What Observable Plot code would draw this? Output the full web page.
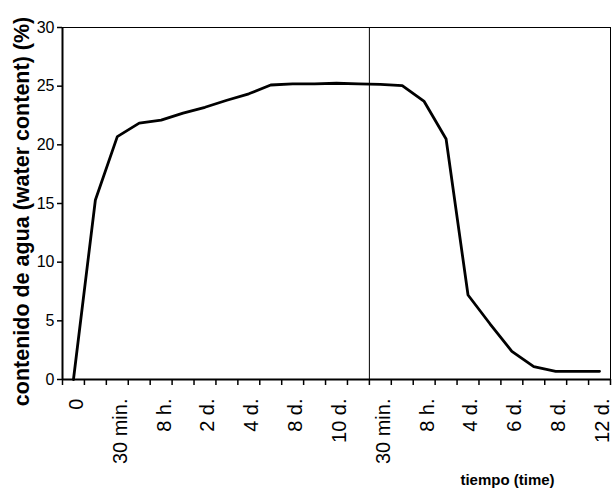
<!DOCTYPE html>
<html>
<head>
<meta charset="utf-8">
<script src="https://cdn.jsdelivr.net/npm/d3@7"></script>
<script src="https://cdn.jsdelivr.net/npm/@observablehq/plot@0.6"></script>
<style>
  html, body { margin: 0; padding: 0; background: #fff; }
  #chart { width: 612px; height: 489px; }
</style>
</head>
<body>
<div id="chart"></div>
<script>
// Category labels (one per category; empty = unlabeled category)
const categories = ["0", "", "30 min.", "", "8 h.", "", "2 d.", "", "4 d.", "", "8 d.", "", "10 d.", "",
                    "30 min.", "", "8 h.", "", "4 d.", "", "6 d.", "", "8 d.", "", "12 d."];
// Water content (%) per category
const values = [0, 15.3, 20.7, 21.85, 22.1, 22.7, 23.2, 23.8, 24.35, 25.1, 25.2, 25.2, 25.25, 25.2,
                25.15, 25.05, 23.7, 20.5, 7.2, 4.75, 2.4, 1.1, 0.7, 0.7, 0.7];
const yTicks = [0, 5, 10, 15, 20, 25, 30];
const yTitle = "contenido de agua (water content) (%)";
const xTitle = "tiempo (time)";
const splitAt = 14; // boundary between the two phases

const data = values.map((v, i) => ({i: i + 0.5, v}));
const boundaries = d3.range(categories.length + 1);
const labelPos = categories.map((c, i) => i + 0.5).filter((p, i) => categories[i] !== "");

const chart = Plot.plot({
  width: 612,
  height: 489,
  marginLeft: 62,
  marginRight: 2,
  marginTop: 27,
  marginBottom: 110,
  style: {fontFamily: "'Liberation Sans', Arial, sans-serif", fontSize: "16px", color: "#000", background: "#fff"},
  x: {type: "linear", domain: [0, categories.length], axis: null},
  y: {domain: [0, 30], axis: null},
  marks: [
    Plot.frame({stroke: "#000", strokeWidth: 1}),
    Plot.ruleX([splitAt], {stroke: "#000", strokeWidth: 1}),
    Plot.axisY({ticks: yTicks, tickSize: 5, tickPadding: 3, strokeWidth: 1.5, fontSize: 16, letterSpacing: "-0.5px", label: null}),
    Plot.axisX({ticks: boundaries, tickSize: 6, tickFormat: () => "", strokeWidth: 1.5, label: null}),
    Plot.axisX({ticks: labelPos, tickSize: 0, tickPadding: 19, tickRotate: -90, fontSize: 20, dx: 3,
                tickFormat: d => categories[Math.floor(d)], label: null}),
    Plot.ruleX([0], {stroke: "#000", strokeWidth: 2}),
    Plot.ruleY([0], {stroke: "#000", strokeWidth: 2}),
    Plot.line(data, {x: "i", y: "v", stroke: "#000", strokeWidth: 2.8, strokeLinejoin: "miter"}),
    Plot.text([yTitle], {text: d => d, frameAnchor: "left", rotate: -90, dx: -40, dy: 8,
                         fontSize: 21.5, fontWeight: "bold", textAnchor: "middle", lineAnchor: "middle"}),
    Plot.text([xTitle], {text: d => d, frameAnchor: "bottom-left", dx: 445, dy: 105,
                         fontSize: 15, fontWeight: "bold", textAnchor: "middle", lineAnchor: "bottom",
                         letterSpacing: "-0.8px"})
  ]
});
document.getElementById("chart").appendChild(chart);
</script>
</body>
</html>
